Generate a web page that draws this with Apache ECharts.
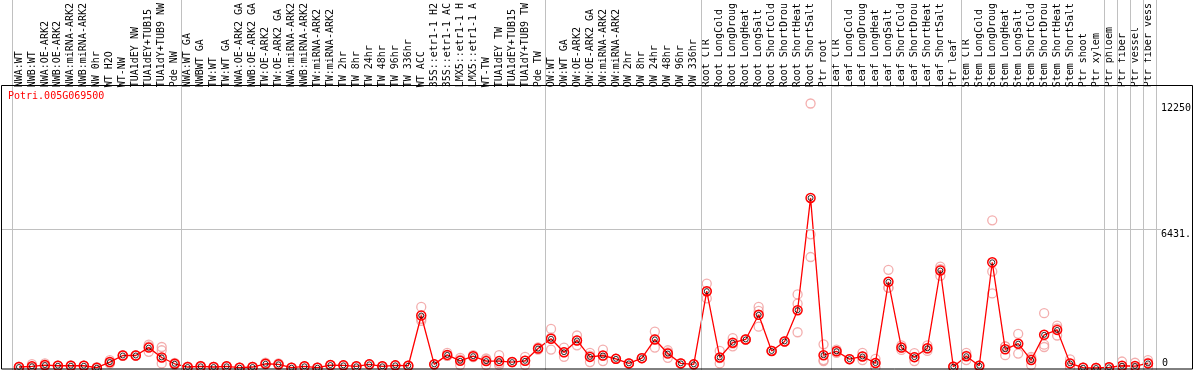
<!DOCTYPE html>
<html><head><meta charset="utf-8">
<script src="https://cdn.jsdelivr.net/npm/echarts@6/dist/echarts.min.js"></script>
<style>html,body{margin:0;padding:0;background:#fff}#c{width:1194px;height:370px}</style>
</head><body><div id="c"></div>
<script>
const geneId = 'Potri.005G069500';
const categories = ['NWA:WT','NWB:WT','NWA:OE-ARK2','NWB:OE-ARK2','NWA:miRNA-ARK2','NWB:miRNA-ARK2','NW 0hr','WT H2O','WT-NW','TUA1dEY NW','TUA1dEY+TUB15','TUA1dY+TUB9 NW','Pde NW',
'NWA:WT GA','NWBWT GA','TW:WT','TW:WT GA','NWA:OE-ARK2 GA','NWB:OE-ARK2 GA','TW:OE-ARK2','TW:OE-ARK2 GA','NWA:miRNA-ARK2','NWB:miRNA-ARK2','TW:miRNA-ARK2','TW:miRNA-ARK2','TW 2hr','TW 8hr','TW 24hr','TW 48hr','TW 96hr','TW 336hr','WT ACC','35S::etr1-1 H2','35S::etr1-1 AC','LMX5::etr1-1 H','LMX5::etr1-1 A','WT-TW','TUA1dEY TW','TUA1dEY+TUB15','TUA1dY+TUB9 TW','Pde TW',
'OW:WT','OW:WT GA','OW:OE-ARK2','OW:OE-ARK2 GA','OW:miRNA-ARK2','OW:miRNA-ARK2','OW 2hr','OW 8hr','OW 24hr','OW 48hr','OW 96hr','OW 336hr',
'Root CTR','Root LongCold','Root LongDroug','Root LongHeat','Root LongSalt','Root ShortCold','Root ShortDrou','Root ShortHeat','Root ShortSalt','Ptr root',
'Leaf CTR','Leaf LongCold','Leaf LongDroug','Leaf LongHeat','Leaf LongSalt','Leaf ShortCold','Leaf ShortDrou','Leaf ShortHeat','Leaf ShortSalt','Ptr leaf',
'Stem CTR','Stem LongCold','Stem LongDroug','Stem LongHeat','Stem LongSalt','Stem ShortCold','Stem ShortDrou','Stem ShortHeat','Stem ShortSalt','Ptr shoot',
'Ptr xylem','Ptr phloem','Ptr fiber','Ptr vessel','Ptr fiber vess'];

const meanValues = [46,78,137,105,105,105,14,274,579,579,944,488,196,
46,78,46,78,14,46,196,169,14,78,14,137,123,78,169,78,123,105,2431,169,607,333,547,319,319,274,333,899,
1355,730,1277,515,579,424,214,456,1323,670,214,169,
3558,488,1172,1323,2463,789,1231,2677,7877,593,
775,410,534,228,3991,944,502,912,4515,59,
547,105,4894,867,1127,365,1537,1765,214,14,
0,32,105,91,214];

const rep1 = [46,182,214,105,105,105,0,365,579,579,1003,972,196,
46,78,46,78,14,46,243,214,14,78,14,137,123,78,169,78,123,105,2828,169,700,470,547,441,593,274,516,950,
1810,516,1505,698,853,424,214,456,1688,821,214,169,
3908,790,1382,1323,2828,789,1231,3407,12250,1095,
853,410,698,32,4547,1049,319,1049,4698,59,
700,105,6842,1003,1581,516,2539,1961,397,14,
0,32,300,243,365];
const rep2 = [30,30,120,100,90,100,0,250,560,580,1080,821,150,
30,60,46,78,14,46,180,150,14,78,14,137,123,78,169,78,123,105,2280,169,560,137,500,137,137,274,137,850,
853,944,1050,274,319,424,214,456,944,470,214,169,
3224,214,1003,1323,1916,789,1231,2978,6189,365,
775,410,365,228,3708,944,502,790,4273,59,
365,105,4470,593,669,137,1080,1505,32,14,
0,32,15,30,243];
const rep3 = [60,20,80,110,120,110,40,200,600,580,750,210,240,
60,100,46,78,14,46,165,140,14,78,14,137,123,78,169,78,123,105,2185,169,560,392,594,380,228,274,346,897,
1402,730,1277,573,562,424,214,456,1337,719,214,169,
3542,460,1131,1323,2645,789,1231,1656,5140,319,
697,410,539,424,3718,839,685,897,4574,59,
576,105,3453,1005,1131,442,972,1829,213,14,
0,32,0,0,31];

const groupBoundaries = [-0.5,12.5,40.5,52.5,62.5,72.5,83.5,84.5,85.5,86.5,87.5];
const yAxisMax = 12862.5;
const yGridValue = 6431.25;
const yTopLabelValue = 12250;
const yTickLabels = {0:'0', 6431.25:'6431.', 12250:'12250'};

const FONT = '"DejaVu Sans Mono", "Liberation Mono", monospace';
const XMIN = -18/13, XMAX = -18/13 + 1192/13;

const chart = echarts.init(document.getElementById('c'), null, {renderer:'canvas'});
const idx = categories.map((_, i) => i);

chart.setOption({
  animation: false,
  backgroundColor: '#fff',
  title: {text: geneId, left: 8, top: 91, padding: 0,
    textStyle: {color: '#ff0000', fontFamily: FONT, fontSize: 10, fontWeight: 'normal'}},
  grid: [
    {left: 1, right: 1, top: 86, bottom: 2},
    {left: 1, right: 1, top: 0, bottom: 0}
  ],
  xAxis: [
    {type: 'value', gridIndex: 0, min: XMIN, max: XMAX, position: 'top',
      axisLine: {show: false}, axisTick: {show: false}, splitLine: {show: false},
      axisLabel: {customValues: idx, rotate: 90, margin: 3, color: '#000',
        fontFamily: FONT, fontSize: 10, formatter: v => categories[Math.round(v)] || ''}},
    {type: 'value', gridIndex: 1, min: XMIN, max: XMAX, show: false, splitLine: {show: false}}
  ],
  yAxis: [
    {type: 'value', gridIndex: 0, min: 0, max: yAxisMax, interval: yGridValue, position: 'right',
      axisLine: {show: false}, axisTick: {show: false}, splitLine: {show: false},
      axisLabel: {inside: true, customValues: [yGridValue, yTopLabelValue], align: 'left', margin: 30,
        verticalAlign: 'top', color: '#000', fontFamily: FONT, fontSize: 10,
        formatter: v => yTickLabels[v] || ''}},
    {type: 'value', gridIndex: 1, min: 0, max: 1, show: false, splitLine: {show: false}},
    {type: 'value', gridIndex: 0, min: 0, max: yAxisMax, position: 'right',
      axisLine: {show: false}, axisTick: {show: false}, splitLine: {show: false},
      axisLabel: {inside: true, customValues: [0], align: 'left', margin: 29,
        verticalAlign: 'bottom', color: '#000', fontFamily: FONT, fontSize: 10,
        formatter: v => yTickLabels[v] || ''}}
  ],
  series: [
    {type: 'line', xAxisIndex: 1, yAxisIndex: 1, data: [], silent: true, z: 1,
      markLine: {silent: true, symbol: 'none', animation: false,
        lineStyle: {color: '#c0c0c0', width: 1, type: 'solid'}, label: {show: false},
        data: groupBoundaries.map(b => ({xAxis: b}))}},
    {type: 'line', xAxisIndex: 0, yAxisIndex: 0, data: [], silent: true, z: 1,
      markLine: {silent: true, symbol: 'none', animation: false,
        lineStyle: {color: '#c0c0c0', width: 1, type: 'solid'}, label: {show: false},
        data: [[{coord: [XMIN, yGridValue]}, {coord: [88, yGridValue]}]]}},
    ...[rep1, rep2, rep3].map(r => ({type: 'scatter', xAxisIndex: 0, yAxisIndex: 0, z: 2,
      data: r.map((v, i) => [i, v]), symbol: 'circle', symbolSize: 9,
      itemStyle: {color: 'rgba(0,0,0,0)', borderColor: '#f09a9a', borderWidth: 1.3}})),
    {type: 'line', xAxisIndex: 0, yAxisIndex: 0, z: 3,
      data: meanValues.map((v, i) => [i, v]),
      lineStyle: {color: '#ff0000', width: 1.3},
      symbol: 'circle', symbolSize: 9, showSymbol: true,
      itemStyle: {color: 'rgba(0,0,0,0)', borderColor: '#ff0000', borderWidth: 1.5}},
    {type: 'scatter', xAxisIndex: 0, yAxisIndex: 0, z: 4,
      data: meanValues.map((v, i) => [i, v]), symbol: 'circle', symbolSize: 5,
      itemStyle: {color: 'rgba(0,0,0,0)', borderColor: '#000', borderWidth: 1}}
  ],
  graphic: [
    {type: 'rect', z: 100, silent: true, shape: {x: 1.5, y: 85.5, width: 1191, height: 283.5},
      style: {fill: null, stroke: '#000', lineWidth: 1}}
  ]
});
</script></body></html>
